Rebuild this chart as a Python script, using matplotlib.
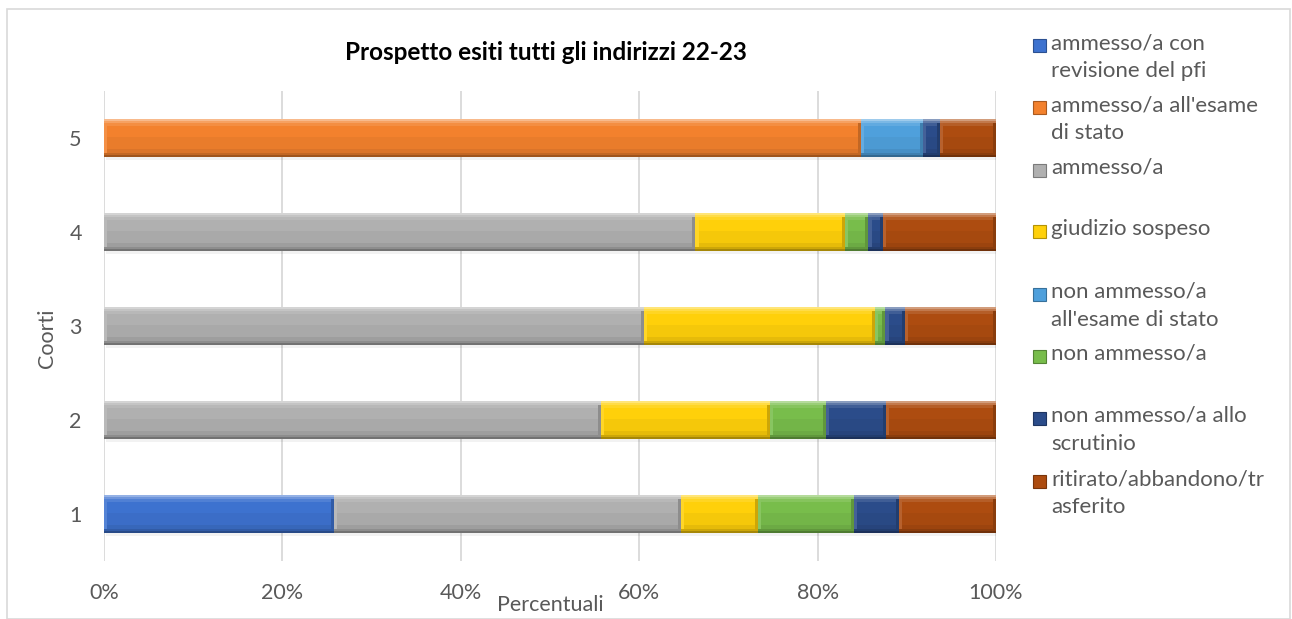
import matplotlib

matplotlib.use("Agg")
import matplotlib.pyplot as plt
import numpy as np
from matplotlib.colors import to_rgb
from matplotlib.patches import Rectangle

FONT = ["Lato", "DejaVu Sans"]
TEXT_COLOR = "#595959"
GRID_COLOR = "#d9d9d9"

coorti = ["1", "2", "3", "4", "5"]
x_ticks = [0, 20, 40, 60, 80, 100]
x_tick_labels = ["0%", "20%", "40%", "60%", "80%", "100%"]

series_names = [
    "ammesso/a con\nrevisione del pfi",
    "ammesso/a all'esame\ndi stato",
    "ammesso/a",
    "giudizio sospeso",
    "non ammesso/a\nall'esame di stato",
    "non ammesso/a",
    "non ammesso/a allo\nscrutinio",
    "ritirato/abbandono/tr\nasferito",
]
series_colors = [
    "#3d72cf", "#f3812d", "#b0b0b0", "#ffd00a",
    "#4fa0dc", "#78bd4b", "#2b4c8a", "#ad4c10",
]

# percentuali per coorte 1..5
revisione_pfi = [25.8, 0, 0, 0, 0]
ammesso_esame = [0, 0, 0, 0, 84.9]
ammesso = [38.9, 55.7, 60.5, 66.3, 0]
sospeso = [8.6, 19.0, 25.9, 16.8, 0]
non_ammesso_esame = [0, 0, 0, 0, 6.9]
non_ammesso = [10.8, 6.2, 1.2, 2.6, 0]
non_ammesso_scrutinio = [5.0, 6.8, 2.2, 1.6, 1.9]
ritirato = [10.9, 12.3, 10.2, 12.7, 6.3]

series_values = [
    revisione_pfi, ammesso_esame, ammesso, sospeso,
    non_ammesso_esame, non_ammesso, non_ammesso_scrutinio, ritirato,
]


def _shade(color, f):
    r, g, b = to_rgb(color)
    if f >= 0:
        return (r + (1 - r) * f, g + (1 - g) * f, b + (1 - b) * f)
    return (r * (1 + f), g * (1 + f), b * (1 + f))


# vertical gradient of the bevelled bars: (fraction of height, shade)
BEVEL = [
    (0.05, 0.45), (0.05, 0.25), (0.08, 0.10), (0.30, 0.0),
    (0.30, -0.04), (0.10, -0.10), (0.07, -0.20), (0.05, -0.35),
]

fig = plt.figure(figsize=(12.92, 6.19), dpi=100)
fig.patches.append(Rectangle((7 / 1292, 0), 1284 / 1292 - 0.0005, 1 - 9 / 619,
                             transform=fig.transFigure, fill=False,
                             edgecolor=GRID_COLOR, linewidth=1.2))

ax = fig.add_axes([104 / 1292, 1 - 561 / 619, 892 / 1292, 470 / 619])

y = np.arange(len(coorti))
h = 0.41
left = np.zeros(len(coorti))
for vals, color in zip(series_values, series_colors):
    vals = np.asarray(vals, dtype=float)
    # soft shadow
    ax.barh(y - 0.03, vals, height=h, left=left + 0.2, color="#000000",
            alpha=0.05, linewidth=0, zorder=2)
    top = y + h / 2
    for frac, f in BEVEL:
        ax.barh(top - frac * h / 2, vals, height=frac * h, left=left,
                color=_shade(color, f), linewidth=0, zorder=3)
        top = top - frac * h
    edge_w = np.minimum(vals, 0.35)
    ax.barh(y, edge_w, height=h * 0.8, left=left, color=_shade(color, 0.12),
            linewidth=0, zorder=4)
    ax.barh(y, edge_w, height=h * 0.8, left=left + vals - edge_w,
            color=_shade(color, -0.2), linewidth=0, zorder=4)
    left += vals

ax.set_xlim(0, 100)
ax.set_ylim(-0.5, len(coorti) - 0.5)
ax.set_xticks(x_ticks)
ax.set_xticklabels(x_tick_labels)
ax.set_yticks(y)
ax.set_yticklabels(coorti)
ax.tick_params(length=0, labelsize=15.5, colors=TEXT_COLOR)
ax.tick_params(axis="x", pad=16)
ax.tick_params(axis="y", pad=16)
for lab in ax.get_xticklabels() + ax.get_yticklabels():
    lab.set_family(FONT)
ax.xaxis.grid(True, color=GRID_COLOR, linewidth=1.3, zorder=0)
ax.set_axisbelow(True)
for s in ax.spines.values():
    s.set_visible(False)

fig.text(550 / 1292, 1 - 605 / 619, "Percentuali", ha="center", va="center",
         fontsize=15.5, color=TEXT_COLOR, family=FONT)
fig.text(47 / 1292, 1 - 338 / 619, "Coorti", ha="center", va="center",
         rotation=90, fontsize=15.5, color=TEXT_COLOR, family=FONT)
fig.text(546 / 1292, 1 - 52 / 619, "Prospetto esiti tutti gli indirizzi 22-23",
         ha="center", va="center", fontsize=17.5, fontweight="bold",
         color="#000000", family=FONT)

# legend
slot_tops = [45, 107, 170, 231, 294, 356, 418, 481]
for name, color, ty in zip(series_names, series_colors, slot_tops):
    fig.patches.append(Rectangle((1033 / 1292, 1 - (ty + 7) / 619), 13 / 1292, 13 / 619,
                                 transform=fig.transFigure, facecolor=color,
                                 edgecolor=_shade(color, -0.3), linewidth=0.8))
    fig.text(1051 / 1292, 1 - (ty - 12) / 619, name, ha="left", va="top",
             fontsize=16, color=TEXT_COLOR, family=FONT, linespacing=1.5)

fig.savefig("out.png", dpi=100)
